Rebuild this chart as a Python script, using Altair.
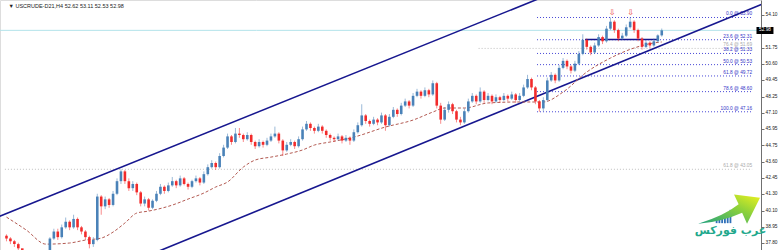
import altair as alt
import pandas as pd

# ---------------- data ----------------
first_open = 38.3
close = [38.1, 37.9, 37.7, 37.4, 37.1, 37.0, 36.9, 36.8, 37.0, 37.1,
         37.2, 38.1, 38.6, 38.2, 38.9, 39.3, 38.9, 39.5, 38.9, 38.6,
         38.2, 37.7, 38.0, 41.1, 40.4, 40.9, 40.5, 41.3, 42.2, 42.9,
         42.2, 41.7, 42.0, 41.4, 40.6, 40.9, 40.3, 40.8, 41.3, 41.8,
         41.5, 41.9, 42.2, 41.9, 42.4, 42.0, 41.8, 42.2, 42.4, 42.1,
         42.7, 43.2, 43.5, 43.2, 44.0, 44.6, 45.4, 45.0, 45.6, 45.5,
         45.2, 45.5, 45.0, 44.7, 45.0, 44.8, 45.1, 45.4, 45.6, 45.1,
         44.4, 44.8, 45.0, 44.7, 45.2, 45.9, 46.3, 46.0, 45.8, 46.1,
         45.8, 45.5, 45.3, 45.2, 45.4, 45.1, 45.3, 45.1, 45.7, 46.2,
         46.9, 46.5, 46.3, 46.6, 46.4, 46.9, 46.2, 46.8, 47.3, 47.0,
         47.6, 47.9, 47.6, 48.3, 48.6, 48.3, 48.7, 48.4, 49.2, 47.6,
         46.6, 47.3, 47.7, 47.2, 46.6, 46.4, 47.2, 47.9, 48.3, 47.9,
         48.6, 48.0, 48.3, 47.9, 48.2, 48.0, 48.3, 48.1, 48.4, 48.0,
         48.3, 48.9, 49.5, 48.9, 47.9, 47.4, 48.0, 49.4, 49.8, 49.4,
         50.3, 50.8, 50.4, 50.1, 50.6, 51.3, 52.3, 51.8, 51.4, 51.9,
         52.5, 52.2, 53.1, 53.6, 53.0, 52.4, 52.6, 53.2, 53.6, 53.0,
         52.4, 51.8, 52.1, 51.9, 52.2, 52.62, 52.98]
high = [38.4, 38.2, 38.0, 37.8, 37.25, 37.2, 37.1, 37.0, 37.1, 37.2,
        37.25, 38.2, 38.8, 38.8, 39.1, 39.6, 39.4, 39.8, 39.6, 39.0,
        38.7, 38.3, 38.2, 41.3, 41.2, 41.1, 41.0, 41.5, 42.4, 43.05,
        43.0, 42.4, 42.2, 42.1, 41.5, 41.1, 41.0, 40.9, 41.5, 42.0,
        41.9, 42.1, 42.5, 42.3, 42.6, 42.5, 42.1, 42.3, 42.6, 42.5,
        42.9, 43.4, 43.7, 43.6, 44.2, 44.8, 45.6, 45.5, 46.0, 46.0,
        45.6, 45.7, 45.6, 45.1, 45.2, 45.1, 45.3, 45.6, 46.1, 45.7,
        45.2, 45.0, 45.2, 45.1, 45.4, 46.1, 46.5, 46.4, 46.1, 46.3,
        46.2, 45.9, 45.6, 45.4, 45.6, 45.5, 45.5, 45.4, 45.9, 46.4,
        47.7, 47.0, 46.6, 46.8, 46.7, 47.1, 47.0, 47.0, 47.5, 47.4,
        47.8, 48.1, 48.0, 48.5, 48.8, 48.7, 48.9, 48.8, 49.4, 49.3,
        47.8, 47.5, 47.9, 47.8, 47.3, 46.8, 47.4, 48.1, 48.5, 48.4,
        48.9, 48.7, 48.5, 48.4, 48.4, 48.3, 48.5, 48.4, 48.6, 48.5,
        48.5, 49.1, 49.8, 49.6, 49.0, 48.0, 48.2, 49.6, 50.0, 49.9,
        50.5, 51.0, 50.9, 50.5, 50.8, 51.5, 52.7, 52.4, 51.9, 52.1,
        52.7, 52.6, 53.3, 53.9, 53.7, 53.1, 52.8, 53.4, 53.9, 53.7,
        53.1, 52.5, 52.3, 52.2, 52.4, 52.7, 53.11]
low = [37.9, 37.7, 37.5, 37.2, 36.9, 36.8, 36.7, 36.6, 36.7, 36.9,
       37.0, 37.1, 38.0, 38.0, 38.1, 38.8, 38.7, 38.8, 38.7, 38.4,
       38.0, 37.4, 37.5, 37.9, 39.8, 40.2, 40.3, 40.4, 41.2, 42.0,
       42.0, 41.5, 41.5, 41.2, 40.4, 40.4, 40.1, 40.2, 40.7, 41.2,
       41.3, 41.4, 41.8, 41.7, 41.8, 41.9, 41.6, 41.7, 42.1, 41.9,
       42.0, 42.6, 43.1, 43.0, 43.1, 43.9, 44.5, 44.8, 44.9, 45.3,
       45.0, 45.1, 44.8, 44.5, 44.6, 44.6, 44.7, 45.0, 45.3, 44.9,
       44.0, 44.3, 44.7, 44.5, 44.6, 45.1, 45.8, 45.8, 45.6, 45.7,
       45.6, 45.3, 45.1, 45.0, 45.1, 44.9, 45.0, 44.8, 45.0, 45.6,
       46.1, 46.3, 46.1, 46.2, 46.2, 46.3, 45.8, 46.1, 46.7, 46.8,
       46.9, 47.5, 47.4, 47.5, 48.2, 48.1, 48.2, 48.2, 48.3, 47.4,
       46.3, 46.5, 47.1, 47.0, 46.4, 46.2, 46.3, 47.1, 47.8, 47.7,
       47.8, 47.8, 47.9, 47.7, 47.8, 47.8, 47.9, 47.9, 48.0, 47.8,
       47.9, 48.2, 48.8, 48.7, 47.7, 47.16, 47.2, 47.9, 49.3, 49.2,
       49.3, 50.2, 50.2, 49.9, 50.0, 50.5, 51.2, 51.6, 51.2, 51.3,
       51.8, 52.0, 52.1, 53.0, 52.8, 52.2, 52.3, 52.5, 53.1, 52.8,
       52.2, 51.6, 51.7, 51.7, 51.8, 52.1, 52.53]

ma_idx = [0, 5, 10, 16, 20, 24, 27, 30, 33, 36, 42, 46, 50, 53, 56, 60, 63, 67,
          71, 75, 78, 82, 88, 96, 103, 108, 111, 116, 122, 130, 136, 141, 147,
          153, 159, 164, 166]
ma_val = [39.63, 38.71, 37.70, 37.78, 37.99, 38.13, 38.56, 39.21, 39.92, 40.06,
          40.49, 40.92, 41.35, 41.78, 42.14, 43.21, 43.71, 43.92, 44.14, 44.43,
          44.78, 45.00, 45.35, 46.07, 46.57, 47.14, 47.43, 47.43, 47.79, 47.86,
          47.86, 48.57, 50.00, 51.00, 51.72, 52.08, 52.15]

channel_name = ["upper", "upper", "lower", "lower"]
channel_idx = [-2, 140, 30, 195]
channel_price = [39.66, 55.83, 36.21, 55.26]

fib_labels = ["0.0 @ 53.90", "23.6 @ 52.31", "38.2 @ 51.33", "50.0 @ 50.53",
              "61.8 @ 49.72", "78.6 @ 48.60", "100.0 @ 47.16"]
fib_prices = [53.90, 52.31, 51.33, 50.53, 49.72, 48.60, 47.16]
fib_start, fib_end = 134.4, 188.9

gray_labels = ["76.4 @ 51.69", "61.8 @ 43.05"]
gray_prices = [51.69, 43.05]
gray_start = [119.6, -0.4]

neck_start, neck_end, neck_price = 146.6, 165.1, 52.33
last_price = 52.98
top_idx = [153.4, 158.1]
top_price = [54.25, 54.25]

tick_values = [54.10, 51.75, 50.60, 49.45, 48.25, 47.10, 45.95, 44.75,
               43.60, 42.45, 41.30, 40.10, 38.95, 37.80]
header = "▼ USCRUDE-D21,H4  52.62 53.11 52.53 52.98"

# ---------------- tables ----------------
opens = [first_open] + close[:-1]
candles = pd.DataFrame({
    "idx": list(range(len(close))), "open": opens, "close": close,
    "high": high, "low": low,
})
candles["dir"] = ["up" if c >= o else "down" for o, c in zip(opens, close)]

ma_df = pd.DataFrame({"idx": ma_idx, "price": ma_val})
ch_df = pd.DataFrame({"name": channel_name, "idx": channel_idx, "price": channel_price})
fib_df = pd.DataFrame({"label": fib_labels, "price": fib_prices,
                       "x1": fib_start, "x2": fib_end})
gray_df = pd.DataFrame({"label": gray_labels, "price": gray_prices,
                        "x1": gray_start, "x2": fib_end})

XS = alt.Scale(domain=[-0.375, 189.875], nice=False, zero=False)
YS = alt.Scale(domain=[37.28, 55.15], nice=False, zero=False)
YAX = alt.Axis(orient="right", values=tick_values, format=".2f", grid=False,
               labelFontSize=4.8, labelFont="Liberation Sans", labelColor="#222",
               domainColor="#707070", tickColor="#707070", tickSize=3,
               labelPadding=1, labelOverlap=False, labelFlush=False, title=None)


def X(f):
    return alt.X(f, type="quantitative", scale=XS, axis=None)


def Y(f):
    return alt.Y(f, type="quantitative", scale=YS, axis=YAX)


col = alt.Color("dir:N", scale=alt.Scale(domain=["up", "down"],
                                          range=["#4a82b8", "#f22b2b"]), legend=None)

price_line = alt.Chart(pd.DataFrame({"price": [last_price]})).mark_rule(
    color="#b3e3ea", strokeWidth=1).encode(y=Y("price"))

gray_lines = alt.Chart(gray_df).mark_rule(
    color="#bdbdbd", strokeDash=[1, 2], strokeWidth=1, clip=True).encode(
    x=X("x1"), x2="x2", y=Y("price"))
gray_text = alt.Chart(gray_df).mark_text(
    align="right", baseline="bottom", dy=-1, fontSize=4.8, color="#aaaaaa",
    font="Liberation Sans").encode(x=X("x2"), y=Y("price"), text="label")

fib_lines = alt.Chart(fib_df).mark_rule(
    color="#4747d6", strokeDash=[1, 2], strokeWidth=1).encode(
    x=X("x1"), x2="x2", y=Y("price"))
fib_text = alt.Chart(fib_df).mark_text(
    align="right", baseline="bottom", dy=-1, fontSize=4.8, color="#3535c8",
    font="Liberation Sans").encode(x=X("x2"), y=Y("price"), text="label")

channels = alt.Chart(ch_df).mark_line(color="#17178f", strokeWidth=1.6, clip=True).encode(
    x=X("idx"), y=Y("price"), detail="name:N")

neck = alt.Chart(pd.DataFrame({"a": [neck_start], "b": [neck_end], "p": [neck_price]})).mark_rule(
    color="#17178f", strokeWidth=1.4).encode(x=X("a"), x2="b", y=Y("p"))

ma = alt.Chart(ma_df).mark_line(color="#b35a52", strokeWidth=1, strokeDash=[3, 2],
                                interpolate="monotone", clip=True).encode(
    x=X("idx"), y=Y("price"))

wicks = alt.Chart(candles).mark_rule(strokeWidth=1, opacity=0.55, clip=True).encode(
    x=X("idx"), y=Y("low"), y2="high", color=col)
bodies = alt.Chart(candles).mark_bar(size=2.6, clip=True, orient="vertical").encode(
    x=X("idx"), y=Y("open"), y2="close", color=col)

tops = alt.Chart(pd.DataFrame({"idx": top_idx, "price": top_price})).mark_text(
    text="⇩", fontSize=8, color="#e83030", font="DejaVu Sans").encode(
    x=X("idx"), y=Y("price"))

head = alt.Chart(pd.DataFrame({"idx": [0.5], "price": [54.75], "t": [header]})).mark_text(
    align="left", baseline="middle", fontSize=5.5, color="#222",
    font="Liberation Sans").encode(x=X("idx"), y=Y("price"), text="t")

box = alt.Chart(pd.DataFrame({"a": [190.0], "b": [194.3], "p1": [53.22], "p2": [52.72]})).mark_rect(
    color="#000000").encode(x=X("a"), x2="b", y=Y("p1"), y2="p2")
box_text = alt.Chart(pd.DataFrame({"idx": [192.15], "price": [52.97], "t": ["52.98"]})).mark_text(
    fontSize=4.8, color="#ffffff", font="Liberation Sans", baseline="middle").encode(
    x=X("idx"), y=Y("price"), text="t")

# logo (annotation in data coordinates)
logo_text = alt.Chart(pd.DataFrame({"idx": [183.4], "price": [38.63], "t": ["عرب فوركس"]})).mark_text(
    fontSize=11, fontWeight="bold", color="#22a88c", font="DejaVu Sans").encode(
    x=X("idx"), y=Y("price"), text="t")
bars_df = pd.DataFrame({"idx": [179.9, 180.6, 181.3, 182.0, 182.7, 183.4],
                        "lo": [39.2, 39.2, 39.2, 39.2, 39.2, 39.2],
                        "hi": [39.45, 39.55, 39.7, 39.85, 40.0, 40.15]})
logo_bars = alt.Chart(bars_df).mark_bar(size=1.8, color="#2f6fb8", orient="vertical").encode(
    x=X("idx"), y=Y("lo"), y2="hi")
arrow = alt.Chart(pd.DataFrame({"idx": [187.6], "price": [40.45]})).mark_point(
    shape="M-3.5,1.3 Q-1.6,0.7 -0.6,-0.1 L-0.93,-0.79 L0.93,-0.57 L0,1.3 L-0.35,0.5 Q-1.8,1.15 -3.5,1.3 Z",
    size=780, filled=True, opacity=1, strokeWidth=0,
    fill=alt.LinearGradient(gradient="linear", x1=0, y1=1, x2=1, y2=0,
                            stops=[alt.GradientStop(color="#1ea080", offset=0),
                                   alt.GradientStop(color="#8fd23a", offset=0.6),
                                   alt.GradientStop(color="#eef21e", offset=1)])).encode(
    x=X("idx"), y=Y("price"))

chart = alt.layer(
    price_line, gray_lines, gray_text, fib_lines, fib_text, channels, neck, ma,
    wicks, bodies, tops, head, box, box_text, logo_bars, arrow, logo_text
).properties(
    width=761, height=250,
    padding={"left": 0, "top": 0, "right": 21, "bottom": 0},
    autosize=alt.AutoSizeParams(type="none"),
).configure_view(stroke="#a8a8a8", strokeWidth=1).configure(background="white")

chart.save("out.html", embed_options={"renderer": "svg", "actions": False})
